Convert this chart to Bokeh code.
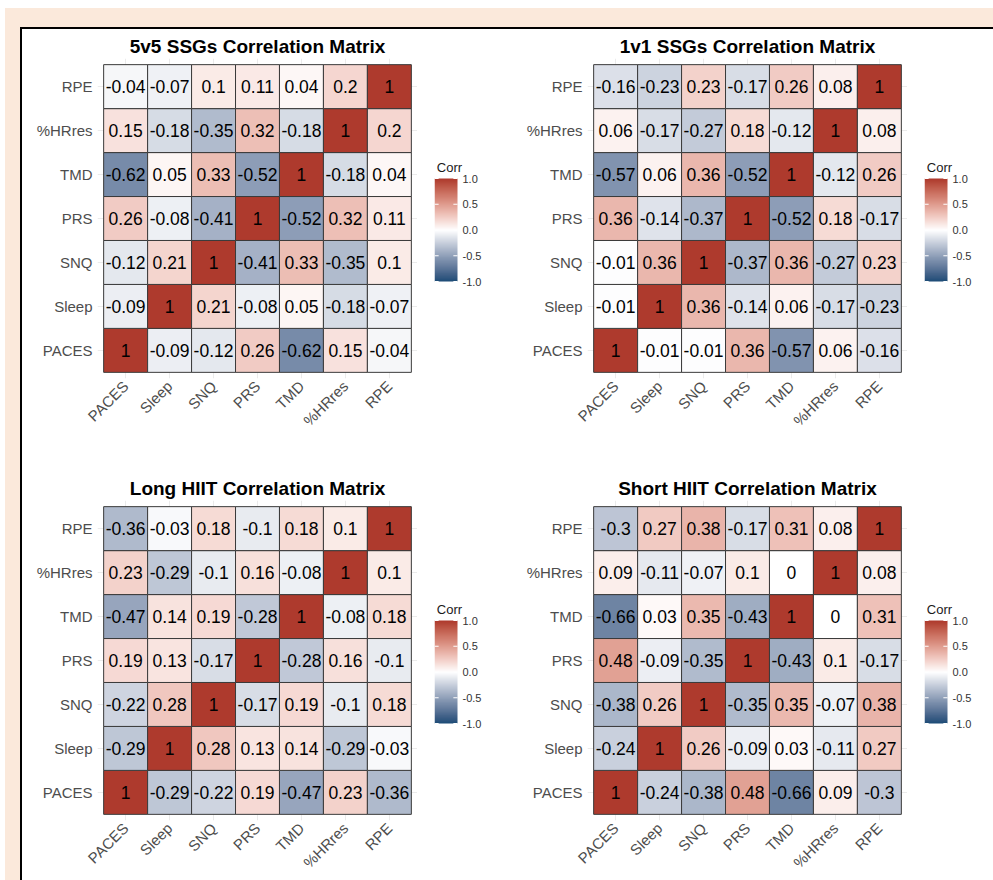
import math

import numpy as np
from bokeh.core.properties import value
from bokeh.embed import file_html
from bokeh.layouts import column, row
from bokeh.models import ColumnDataSource, FactorRange, LinearColorMapper, Range1d, Title
from bokeh.plotting import figure
from bokeh.resources import INLINE
from bokeh.transform import transform

# Variables, in axis order (x: left to right, y: bottom to top)
VARS = ["PACES", "Sleep", "SNQ", "PRS", "TMD", "%HRres", "RPE"]

# Correlation matrices, rows/columns in VARS order
ssg_5v5 = [
    [1, -0.09, -0.12, 0.26, -0.62, 0.15, -0.04],
    [-0.09, 1, 0.21, -0.08, 0.05, -0.18, -0.07],
    [-0.12, 0.21, 1, -0.41, 0.33, -0.35, 0.1],
    [0.26, -0.08, -0.41, 1, -0.52, 0.32, 0.11],
    [-0.62, 0.05, 0.33, -0.52, 1, -0.18, 0.04],
    [0.15, -0.18, -0.35, 0.32, -0.18, 1, 0.2],
    [-0.04, -0.07, 0.1, 0.11, 0.04, 0.2, 1],
]

ssg_1v1 = [
    [1, -0.01, -0.01, 0.36, -0.57, 0.06, -0.16],
    [-0.01, 1, 0.36, -0.14, 0.06, -0.17, -0.23],
    [-0.01, 0.36, 1, -0.37, 0.36, -0.27, 0.23],
    [0.36, -0.14, -0.37, 1, -0.52, 0.18, -0.17],
    [-0.57, 0.06, 0.36, -0.52, 1, -0.12, 0.26],
    [0.06, -0.17, -0.27, 0.18, -0.12, 1, 0.08],
    [-0.16, -0.23, 0.23, -0.17, 0.26, 0.08, 1],
]

long_hiit = [
    [1, -0.29, -0.22, 0.19, -0.47, 0.23, -0.36],
    [-0.29, 1, 0.28, 0.13, 0.14, -0.29, -0.03],
    [-0.22, 0.28, 1, -0.17, 0.19, -0.1, 0.18],
    [0.19, 0.13, -0.17, 1, -0.28, 0.16, -0.1],
    [-0.47, 0.14, 0.19, -0.28, 1, -0.08, 0.18],
    [0.23, -0.29, -0.1, 0.16, -0.08, 1, 0.1],
    [-0.36, -0.03, 0.18, -0.1, 0.18, 0.1, 1],
]

short_hiit = [
    [1, -0.24, -0.38, 0.48, -0.66, 0.09, -0.3],
    [-0.24, 1, 0.26, -0.09, 0.03, -0.11, 0.27],
    [-0.38, 0.26, 1, -0.35, 0.35, -0.07, 0.38],
    [0.48, -0.09, -0.35, 1, -0.43, 0.1, -0.17],
    [-0.66, 0.03, 0.35, -0.43, 1, 0, 0.31],
    [0.09, -0.11, -0.07, 0.1, 0, 1, 0.08],
    [-0.3, 0.27, 0.38, -0.17, 0.31, 0.08, 1],
]

TITLES = [
    "5v5 SSGs Correlation Matrix",
    "1v1 SSGs Correlation Matrix",
    "Long HIIT Correlation Matrix",
    "Short HIIT Correlation Matrix",
]

LEGEND_TITLE = "Corr"
LEGEND_TICKS = [-1, -0.5, 0, 0.5, 1]

LOW_COLOR = "#1D4C77"
MID_COLOR = "#FFFFFF"
HIGH_COLOR = "#AE3A2D"
FONT = "Liberation Sans"


# --- diverging palette interpolated in CIELAB ---------------------------------
def _hex_to_rgb(h):
    h = h.lstrip("#")
    return [int(h[i:i + 2], 16) / 255 for i in (0, 2, 4)]


def _rgb_to_lab(rgb):
    lin = [c / 12.92 if c <= 0.04045 else ((c + 0.055) / 1.055) ** 2.4 for c in rgb]
    x = (0.4124 * lin[0] + 0.3576 * lin[1] + 0.1805 * lin[2]) / 0.95047
    y = (0.2126 * lin[0] + 0.7152 * lin[1] + 0.0722 * lin[2]) / 1.0
    z = (0.0193 * lin[0] + 0.1192 * lin[1] + 0.9505 * lin[2]) / 1.08883

    def f(t):
        return t ** (1 / 3) if t > 0.008856 else 7.787 * t + 16 / 116

    fx, fy, fz = f(x), f(y), f(z)
    return [116 * fy - 16, 500 * (fx - fy), 200 * (fy - fz)]


def _lab_to_hex(lab):
    L, a, b = lab
    fy = (L + 16) / 116
    fx = fy + a / 500
    fz = fy - b / 200

    def finv(t):
        return t ** 3 if t ** 3 > 0.008856 else (t - 16 / 116) / 7.787

    x, y, z = finv(fx) * 0.95047, finv(fy), finv(fz) * 1.08883
    r = 3.2406 * x - 1.5372 * y - 0.4986 * z
    g = -0.9689 * x + 1.8758 * y + 0.0415 * z
    bl = 0.0557 * x - 0.2040 * y + 1.0570 * z
    out = []
    for c in (r, g, bl):
        c = 12.92 * c if c <= 0.0031308 else 1.055 * c ** (1 / 2.4) - 0.055
        out.append(min(255, max(0, round(c * 255))))
    return "#%02x%02x%02x" % tuple(out)


def diverging_palette(n=255):
    lo, mid, hi = (_rgb_to_lab(_hex_to_rgb(c)) for c in (LOW_COLOR, MID_COLOR, HIGH_COLOR))
    pal = []
    for k in range(n):
        v = -1 + 2 * k / (n - 1)
        end = hi if v >= 0 else lo
        t = abs(v)
        pal.append(_lab_to_hex([m + (e - m) * t for m, e in zip(mid, end)]))
    return pal


mapper = LinearColorMapper(palette=diverging_palette(), low=-1, high=1)

PANEL = 320          # square panel size, px
TOP = 29             # space above each panel (title)
LEFT = 75            # space left of each panel (row labels)
MATRIX_W = LEFT + PANEL


def fmt(v):
    return "%g" % v


def corr_panel(title, matrix, height):
    xs, ys, vals, labels = [], [], [], []
    for i, rv in enumerate(VARS):
        for j, cv in enumerate(VARS):
            xs.append(cv)
            ys.append(rv)
            vals.append(matrix[i][j])
            labels.append(fmt(matrix[i][j]))
    src = ColumnDataSource(dict(x=xs, y=ys, val=vals, label=labels))

    p = figure(
        x_range=FactorRange(factors=VARS, range_padding=0.14, range_padding_units="absolute"),
        y_range=FactorRange(factors=VARS, range_padding=0.14, range_padding_units="absolute"),
        frame_width=PANEL, frame_height=PANEL,
        min_border_left=LEFT, min_border_top=TOP,
        min_border_right=0, min_border_bottom=height - TOP - PANEL,
        output_backend="svg", toolbar_location=None,
        background_fill_color="white", border_fill_color="white",
        outline_line_color=None,
    )
    p.title = Title(text=title, align="center", text_font=FONT, text_font_size="19px",
                    text_font_style="bold", text_color="black", standoff=4)

    p.rect(x="x", y="y", width=1, height=1, source=src,
           fill_color=transform("val", mapper), line_color="#3a3a3a", line_width=1)
    p.text(x="x", y="y", text="label", source=src, text_align="center",
           text_baseline="middle", text_font=value(FONT), text_font_size="17.5px",
           text_color="black")

    for ax in (p.xaxis[0], p.yaxis[0]):
        ax.axis_line_color = None
        ax.major_tick_line_color = None
        ax.minor_tick_line_color = None
        ax.major_tick_out = 0
        ax.major_tick_in = 0
        ax.major_label_text_font = FONT
        ax.major_label_text_font_size = "15px"
        ax.major_label_text_color = "#4D4D4D"
        ax.major_label_standoff = 5
    p.xaxis.major_label_orientation = math.pi / 4
    p.xgrid.grid_line_color = "#EBEBEB"
    p.ygrid.grid_line_color = "#EBEBEB"
    return p


# Colour strip geometry inside the legend panel (px)
BAR_W, BAR_H = 23, 103
BAR_LEFT = 17                        # gap between matrix panel and strip
BAR_BELOW = 97                       # gap between strip bottom and panel bottom
PX_PER_UNIT = BAR_H / 2.0
Y_LO = -1 - BAR_BELOW / PX_PER_UNIT
Y_HI = Y_LO + PANEL / PX_PER_UNIT


def legend_panel(width, height):
    """Colour-bar legend: gradient strip with its heading and value labels."""
    frame_w = width - BAR_LEFT
    p = figure(
        x_range=Range1d(0, frame_w / BAR_W), y_range=Range1d(Y_LO, Y_HI),
        frame_width=frame_w, frame_height=PANEL,
        min_border_left=BAR_LEFT, min_border_top=TOP,
        min_border_right=0, min_border_bottom=height - TOP - PANEL,
        x_axis_location=None, y_axis_location=None,
        output_backend="svg", toolbar_location=None,
        background_fill_color="white", border_fill_color="white",
        outline_line_color=None,
    )
    p.xgrid.visible = False
    p.ygrid.visible = False

    grad = np.linspace(-1, 1, 256).reshape(256, 1)
    p.image(image=[grad], x=0, y=-1, dw=1, dh=2, color_mapper=mapper)

    # short white ticks on both edges of the strip, value labels to its right
    ticks = ColumnDataSource(dict(y=LEGEND_TICKS, label=["%.1f" % t for t in LEGEND_TICKS]))
    p.segment(x0=0, x1=0.18, y0="y", y1="y", source=ticks, line_color="white", line_width=1)
    p.segment(x0=0.82, x1=1, y0="y", y1="y", source=ticks, line_color="white", line_width=1)
    p.text(x=1 + 5 / BAR_W, y="y", text="label", source=ticks, text_font=value(FONT),
           text_font_size="11px", text_color="#333333", text_align="left",
           text_baseline="middle")

    # legend heading just above the strip
    p.text(x=[0.1], y=[1 + 11 / PX_PER_UNIT], text=[LEGEND_TITLE],
           text_font=value(FONT), text_font_size="13px", text_color="#1a1a1a",
           text_align="left", text_baseline="alphabetic")
    return p


def block(title, matrix, width, height):
    return row(corr_panel(title, matrix, height), legend_panel(width - MATRIX_W, height))


b1 = block(TITLES[0], ssg_5v5, 490, 442)
b2 = block(TITLES[1], ssg_1v1, 481, 442)
b3 = block(TITLES[2], long_hiit, 490, 405)
b4 = block(TITLES[3], short_hiit, 481, 405)

inner = column(
    row(b1, b2), row(b3, b4),
    styles={"background-color": "white", "border-top": "2px solid black",
            "border-left": "2px solid black"},
)
page = column(inner, styles={"background-color": "#FBE9DB", "padding": "19px 0 0 15px",
                             "margin": "8px 0 0 5px"})

open("out.html", "w").write(file_html(page, INLINE))
